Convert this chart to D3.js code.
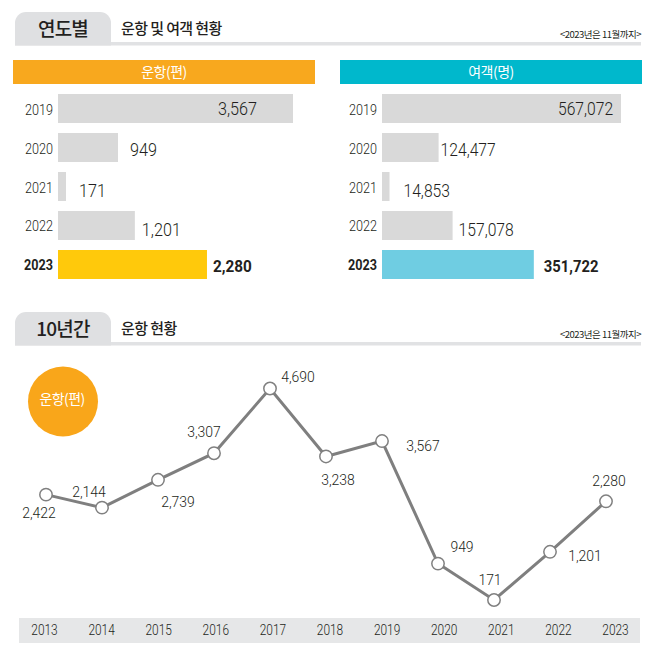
<!DOCTYPE html>
<html>
<head>
<meta charset="utf-8">
<script src="https://cdn.jsdelivr.net/npm/d3@7"></script>
<style>
  html, body { margin: 0; padding: 0; background: #fff; }
  svg { display: block; }
  text { font-family: "Noto Sans CJK KR", sans-serif; fill: #231f20; }
  .num { font-family: Roboto, sans-serif; }
</style>
</head>
<body>
<script>
// data
var recentYears = ['2019', '2020', '2021', '2022', '2023'];
var flights = [3567, 949, 171, 1201, 2280];
var passengers = [567072, 124477, 14853, 157078, 351722];

var decadeYears = ['2013', '2014', '2015', '2016', '2017', '2018', '2019', '2020', '2021', '2022', '2023'];
var decadeFlights = [2422, 2144, 2739, 3307, 4690, 3238, 3567, 949, 171, 1201, 2280];

// label nudges, by hand
var flightLabelDx = [-75, 12, 13, 7, 6];
var passengerLabelDx = [-63, 2, 14, 6, 10];
var barLabelDy = [-0.5, 2, 3.5, 4, 1.5];
var lineLabelDx = [-7, -13, 20, -10, 28, 12, 41, 24, -4, 35, 3];
var lineLabelDy = [18, -16, 22, -22, -12, 23.5, 4, -17, -21, 4, -21];

var svg = d3.select('body').append('svg').attr('width', 663).attr('height', 655);

var fmt = d3.format(',');

// no DIN on the box, so squeeze Roboto to about the same width
var narrow = function(sel, factor){
  sel.each(function(){
    var len = this.getComputedTextLength();
    d3.select(this).attr('textLength', len * factor).attr('lengthAdjust', 'spacingAndGlyphs');
  });
};

var drawHeader = function(top, tab, title){
  svg.append('rect').attr('x', 15).attr('y', top + 30).attr('width', 626).attr('height', 3.5).attr('fill', '#e1e2e4');
  svg.append('path')
    .attr('d', 'M15,' + (top + 33.5) + 'V' + (top + 11) + 'a11,11 0 0 1 11,-11H100a11,11 0 0 1 11,11V' + (top + 33.5) + 'Z')
    .attr('fill', '#dfe0e2');
  svg.append('text').attr('x', 63).attr('y', top + 24).attr('text-anchor', 'middle')
    .attr('font-size', 19).attr('font-weight', 500).attr('letter-spacing', -0.8).text(tab);
  svg.append('text').attr('x', 121).attr('y', top + 22)
    .attr('font-size', 15).attr('font-weight', 500).attr('letter-spacing', -0.6).text(title);
  svg.append('text').attr('x', 641).attr('y', top + 25.5).attr('text-anchor', 'end')
    .attr('font-size', 9.5).attr('letter-spacing', -0.5).text('<2023년은 11월까지>');
};

drawHeader(12, '연도별', '운항 및 여객 현황');
drawHeader(312, '10년간', '운항 현황');

// bar panels
var y = d3.scaleBand().domain(recentYears).range([94, 279]).paddingInner(0.2564).paddingOuter(0);

var drawPanel = function(opts){
  svg.append('rect').attr('x', opts.bandX).attr('y', 60).attr('width', 302).attr('height', 24).attr('fill', opts.bandColor);
  svg.append('text').attr('x', opts.bandX + 151).attr('y', 76.5).attr('text-anchor', 'middle')
    .attr('font-size', 14).attr('letter-spacing', -0.5).style('fill', '#fff').text(opts.title);

  svg.selectAll('.bar' + opts.bandX)
    .data(opts.values)
    .enter()
    .append('rect')
    .attr('class', 'bar' + opts.bandX)
    .attr('x', opts.x0)
    .attr('y', function(d, i){ return y(recentYears[i]); })
    .attr('width', function(d){ return opts.scale(d) - opts.x0; })
    .attr('height', y.bandwidth())
    .attr('fill', function(d, i){ return i === 4 ? opts.hiColor : '#d9d9d9'; });

  svg.selectAll('.year' + opts.bandX)
    .data(recentYears)
    .enter()
    .append('text')
    .attr('class', 'year' + opts.bandX + ' num')
    .attr('x', opts.x0 - 5)
    .attr('y', function(d){ return y(d) + y.bandwidth() / 2 + 6; })
    .attr('text-anchor', 'end')
    .attr('font-size', 14)
    .attr('font-weight', function(d, i){ return i === 4 ? 700 : 300; })
    .text(function(d){ return d; })
    .call(narrow, 0.9);

  svg.selectAll('.val' + opts.bandX)
    .data(opts.values)
    .enter()
    .append('text')
    .attr('class', 'val' + opts.bandX + ' num')
    .attr('x', function(d, i){ return opts.scale(d) + opts.labelDx[i]; })
    .attr('y', function(d, i){ return y(recentYears[i]) + y.bandwidth() / 2 + 6.5 + barLabelDy[i]; })
    .attr('font-size', function(d, i){ return i === 4 ? 17 : 18; })
    .attr('font-weight', function(d, i){ return i === 4 ? 700 : 300; })
    .text(function(d){ return fmt(d); })
    .call(narrow, opts.squeeze);
};

drawPanel({
  title: '운항(편)', bandX: 13, bandColor: '#f8a81e', hiColor: '#ffc90b', x0: 58,
  values: flights, labelDx: flightLabelDx, squeeze: 0.9,
  scale: d3.scaleLinear().domain([171, 3567]).range([66, 293])
});
drawPanel({
  title: '여객(명)', bandX: 340, bandColor: '#00b8cc', hiColor: '#6fcde2', x0: 382,
  values: passengers, labelDx: passengerLabelDx, squeeze: 0.87,
  scale: d3.scalePow().exponent(0.95).domain([0, 567072]).range([382, 621])
});

// 10 year line
var xPoint = d3.scalePoint().domain(decadeYears).range([46, 606]);
var xAxisScale = d3.scalePoint().domain(decadeYears).range([44, 615]);
var yLine = d3.scaleLinear().domain([171, 4690]).range([600, 388.5]);

svg.append('rect').attr('x', 19).attr('y', 618).attr('width', 621).attr('height', 25).attr('fill', '#e6e7e8');

var axis = svg.append('g').attr('transform', 'translate(0,625)')
  .call(d3.axisBottom(xAxisScale).tickSize(0).tickPadding(0));
axis.select('.domain').remove();
axis.selectAll('text')
  .attr('font-size', 14)
  .attr('font-weight', 300)
  .style('font-family', 'Roboto, sans-serif')
  .call(narrow, 0.85);

svg.append('circle').attr('cx', 63).attr('cy', 401.5).attr('r', 35).attr('fill', '#f9a61a');
svg.append('text').attr('x', 62).attr('y', 404).attr('text-anchor', 'middle')
  .attr('font-size', 14).attr('letter-spacing', -0.6).style('fill', '#fff').text('운항(편)');

var line = d3.line()
  .x(function(d, i){ return xPoint(decadeYears[i]); })
  .y(function(d){ return yLine(d); });

svg.append('path').datum(decadeFlights)
  .attr('d', line)
  .attr('fill', 'none')
  .attr('stroke', '#7f7f7f')
  .attr('stroke-width', 3);

svg.selectAll('.dot')
  .data(decadeFlights)
  .enter()
  .append('circle')
  .attr('class', 'dot')
  .attr('cx', function(d, i){ return xPoint(decadeYears[i]); })
  .attr('cy', function(d){ return yLine(d); })
  .attr('r', 6.2)
  .attr('fill', '#fff')
  .attr('stroke', '#808080')
  .attr('stroke-width', 1.5);

svg.selectAll('.lineLabel')
  .data(decadeFlights)
  .enter()
  .append('text')
  .attr('class', 'lineLabel num')
  .attr('x', function(d, i){ return xPoint(decadeYears[i]) + lineLabelDx[i]; })
  .attr('y', function(d, i){ return yLine(d) + lineLabelDy[i] + 5.5; })
  .attr('text-anchor', 'middle')
  .attr('font-size', 15.5)
  .attr('font-weight', 300)
  .text(function(d){ return fmt(d); })
  .call(narrow, 0.9);
</script>
</body>
</html>
